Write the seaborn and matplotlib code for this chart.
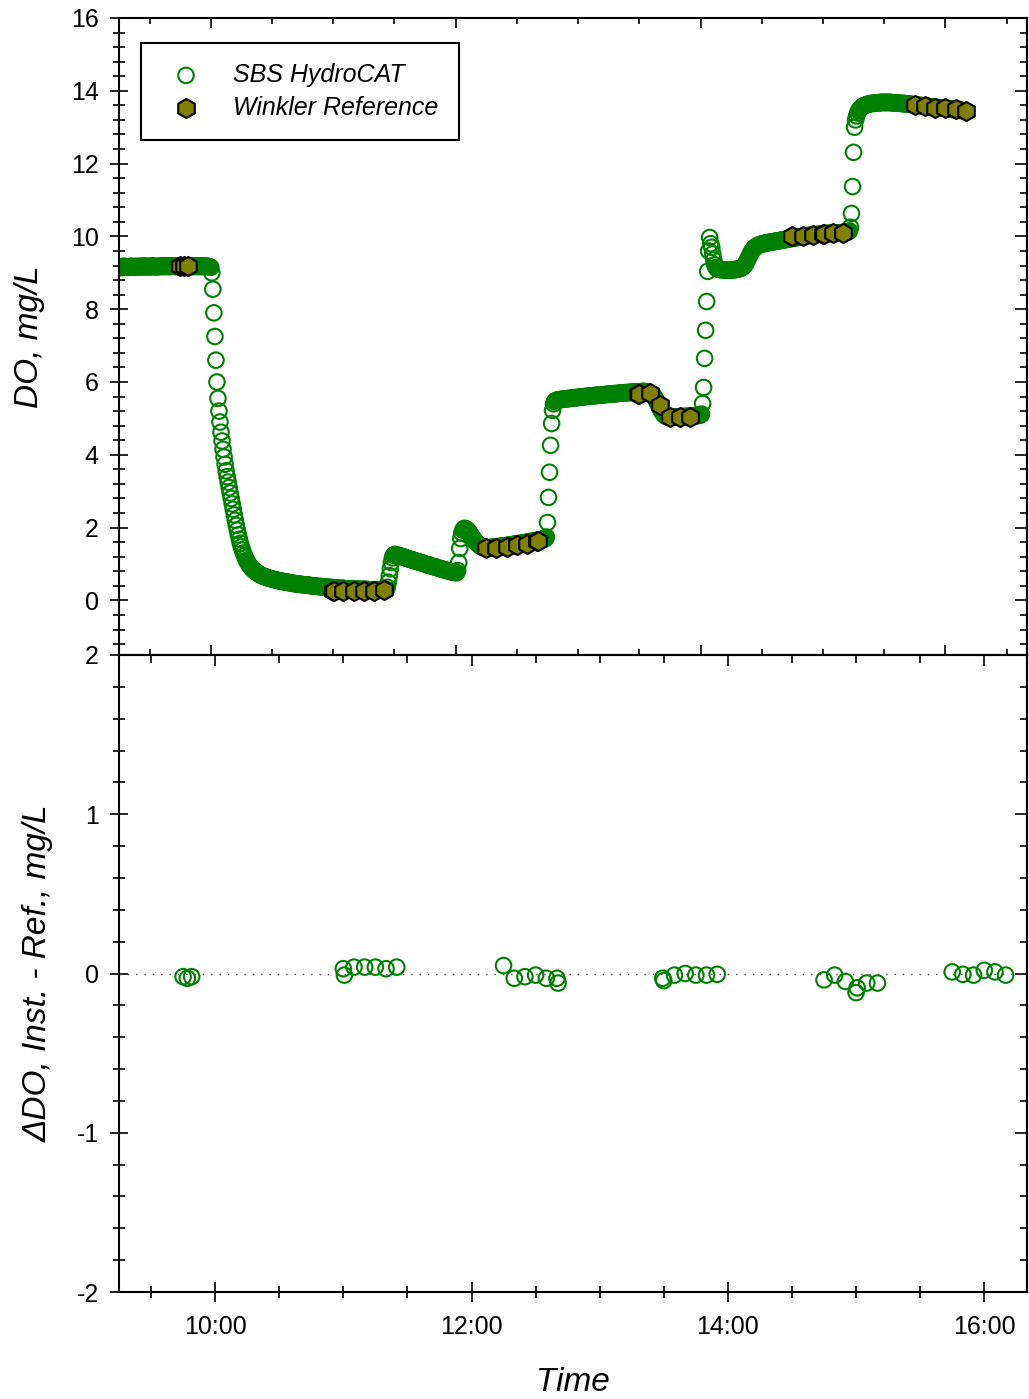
import pandas as pd
import seaborn as sns
import matplotlib.pyplot as plt
import matplotlib.dates as mdates
from matplotlib.ticker import MultipleLocator

sns.set_style('ticks')
plt.rcParams['font.family'] = ['Liberation Sans', 'DejaVu Sans']
plt.rcParams['axes.edgecolor'] = 'black'
plt.rcParams['xtick.color'] = 'black'
plt.rcParams['ytick.color'] = 'black'
plt.rcParams['text.color'] = 'black'
plt.rcParams['axes.labelcolor'] = 'black'
plt.rcParams['axes.unicode_minus'] = False

day = '2020-01-01 '

# SBS HydroCAT DO (mg/L), one reading every 30 s starting 09:15:00
sbs_start = day + '09:15:00'
sbs_do = [
    9.15, 9.16, 9.14, 9.17, 9.16, 9.18, 9.15, 9.17, 9.16, 9.15,  # 09:15
    9.16, 9.17, 9.18, 9.16, 9.17, 9.15, 9.16, 9.18, 9.17, 9.16,  # 09:20
    9.17, 9.18, 9.16, 9.17, 9.19, 9.17, 9.16, 9.18, 9.17, 9.18,  # 09:25
    9.17, 9.16, 9.18, 9.19, 9.17, 9.18, 9.17, 9.16, 9.18, 9.17,  # 09:30
    9.18, 9.17, 9.19, 9.18, 9.17, 9.18, 9.19, 9.17, 9.18, 9.18,  # 09:35
    9.17, 9.19, 9.18, 9.18, 9.19, 9.17, 9.18, 9.19, 9.18, 9.17,  # 09:40
    9.18, 9.19, 9.18, 9.17, 9.19, 9.18, 9.18, 9.19, 9.17, 9.18,  # 09:45
    9.19, 9.18, 9.18, 9.17, 9.19, 9.18, 9.18, 9.17, 9.19, 9.18,  # 09:50
    9.18, 9.17, 9.18, 9.19, 9.18, 9.17, 9.18, 9.18, 9.17, 9.16,  # 09:55
    9.15, 9.00, 8.55, 7.90, 7.25, 6.60, 6.00, 5.55, 5.20, 4.90,  # 10:00
    4.62, 4.38, 4.15, 3.94, 3.74, 3.56, 3.40, 3.25, 3.10, 2.95,  # 10:05
    2.80, 2.65, 2.50, 2.35, 2.20, 2.06, 1.93, 1.80, 1.68, 1.57,  # 10:10
    1.47, 1.38, 1.30, 1.23, 1.16, 1.10, 1.05, 1.00, 0.96, 0.92,  # 10:15
    0.89, 0.86, 0.83, 0.81, 0.79, 0.77, 0.75, 0.73, 0.71, 0.70,  # 10:20
    0.68, 0.67, 0.66, 0.65, 0.64, 0.63, 0.62, 0.61, 0.60, 0.60,  # 10:25
    0.59, 0.58, 0.57, 0.57, 0.56, 0.55, 0.55, 0.54, 0.53, 0.53,  # 10:30
    0.52, 0.52, 0.51, 0.51, 0.50, 0.50, 0.49, 0.49, 0.48, 0.48,  # 10:35
    0.47, 0.47, 0.46, 0.46, 0.45, 0.45, 0.45, 0.44, 0.44, 0.44,  # 10:40
    0.43, 0.43, 0.43, 0.42, 0.42, 0.42, 0.41, 0.41, 0.41, 0.40,  # 10:45
    0.40, 0.40, 0.39, 0.39, 0.39, 0.38, 0.38, 0.38, 0.38, 0.37,  # 10:50
    0.37, 0.37, 0.37, 0.36, 0.36, 0.36, 0.36, 0.35, 0.35, 0.35,  # 10:55
    0.35, 0.34, 0.34, 0.34, 0.34, 0.34, 0.33, 0.33, 0.33, 0.33,  # 11:00
    0.33, 0.32, 0.32, 0.32, 0.32, 0.32, 0.32, 0.31, 0.31, 0.31,  # 11:05
    0.31, 0.31, 0.31, 0.31, 0.30, 0.30, 0.30, 0.30, 0.30, 0.30,  # 11:10
    0.30, 0.30, 0.30, 0.30, 0.29, 0.29, 0.29, 0.29, 0.29, 0.29,  # 11:15
    0.29, 0.29, 0.29, 0.29, 0.29, 0.29, 0.29, 0.28, 0.29, 0.29,  # 11:20
    0.29, 0.29, 0.30, 0.36, 0.50, 0.68, 0.87, 1.04, 1.17, 1.24,  # 11:25
    1.26, 1.26, 1.25, 1.24, 1.23, 1.22, 1.21, 1.21, 1.20, 1.19,  # 11:30
    1.18, 1.17, 1.16, 1.15, 1.14, 1.13, 1.12, 1.12, 1.11, 1.10,  # 11:35
    1.09, 1.08, 1.07, 1.06, 1.05, 1.05, 1.04, 1.03, 1.02, 1.01,  # 11:40
    1.00, 0.99, 0.98, 0.98, 0.97, 0.96, 0.95, 0.94, 0.93, 0.92,  # 11:45
    0.92, 0.91, 0.90, 0.89, 0.88, 0.87, 0.86, 0.86, 0.85, 0.84,  # 11:50
    0.83, 0.82, 0.82, 0.81, 0.80, 0.79, 0.79, 0.78, 0.77, 0.77,  # 11:55
    0.77, 0.76, 0.82, 1.04, 1.43, 1.70, 1.85, 1.93, 1.97, 1.98,  # 12:00
    1.97, 1.95, 1.92, 1.88, 1.84, 1.80, 1.75, 1.71, 1.67, 1.63,  # 12:05
    1.60, 1.57, 1.54, 1.52, 1.50, 1.48, 1.47, 1.46, 1.45, 1.45,  # 12:10
    1.44, 1.44, 1.44, 1.45, 1.45, 1.45, 1.46, 1.46, 1.46, 1.47,  # 12:15
    1.47, 1.47, 1.48, 1.48, 1.48, 1.49, 1.49, 1.50, 1.50, 1.50,  # 12:20
    1.51, 1.51, 1.52, 1.52, 1.52, 1.53, 1.53, 1.54, 1.54, 1.55,  # 12:25
    1.55, 1.55, 1.56, 1.56, 1.57, 1.57, 1.58, 1.58, 1.59, 1.59,  # 12:30
    1.60, 1.60, 1.61, 1.61, 1.62, 1.62, 1.63, 1.63, 1.64, 1.64,  # 12:35
    1.65, 1.65, 1.66, 1.66, 1.67, 1.68, 1.68, 1.69, 1.70, 1.74,  # 12:40
    2.14, 2.83, 3.52, 4.26, 4.86, 5.22, 5.40, 5.46, 5.49, 5.50,  # 12:45
    5.50, 5.51, 5.51, 5.52, 5.52, 5.53, 5.53, 5.53, 5.54, 5.54,  # 12:50
    5.54, 5.55, 5.55, 5.55, 5.56, 5.56, 5.56, 5.57, 5.57, 5.57,  # 12:55
    5.58, 5.58, 5.58, 5.59, 5.59, 5.59, 5.60, 5.60, 5.60, 5.61,  # 13:00
    5.61, 5.61, 5.61, 5.62, 5.62, 5.62, 5.63, 5.63, 5.63, 5.63,  # 13:05
    5.64, 5.64, 5.64, 5.65, 5.65, 5.65, 5.65, 5.66, 5.66, 5.66,  # 13:10
    5.66, 5.67, 5.67, 5.67, 5.67, 5.68, 5.68, 5.68, 5.68, 5.69,  # 13:15
    5.69, 5.69, 5.69, 5.70, 5.70, 5.70, 5.70, 5.71, 5.71, 5.71,  # 13:20
    5.71, 5.71, 5.72, 5.72, 5.72, 5.72, 5.72, 5.73, 5.73, 5.73,  # 13:25
    5.73, 5.73, 5.73, 5.74, 5.74, 5.74, 5.73, 5.73, 5.72, 5.71,  # 13:30
    5.70, 5.69, 5.67, 5.65, 5.62, 5.58, 5.53, 5.48, 5.42, 5.36,  # 13:35
    5.30, 5.24, 5.19, 5.15, 5.11, 5.08, 5.06, 5.05, 5.04, 5.04,  # 13:40
    5.04, 5.04, 5.03, 5.03, 5.03, 5.04, 5.04, 5.04, 5.04, 5.04,  # 13:45
    5.04, 5.05, 5.05, 5.05, 5.05, 5.05, 5.05, 5.06, 5.06, 5.06,  # 13:50
    5.06, 5.06, 5.07, 5.07, 5.07, 5.07, 5.08, 5.08, 5.08, 5.09,  # 13:55
    5.09, 5.12, 5.41, 5.85, 6.65, 7.42, 8.21, 9.04, 9.60, 9.97,  # 14:00
    9.80, 9.70, 9.52, 9.35, 9.22, 9.15, 9.12, 9.10, 9.10, 9.09,  # 14:05
    9.09, 9.09, 9.08, 9.08, 9.08, 9.08, 9.08, 9.08, 9.08, 9.08,  # 14:10
    9.08, 9.08, 9.08, 9.09, 9.09, 9.09, 9.10, 9.10, 9.11, 9.12,  # 14:15
    9.13, 9.15, 9.17, 9.20, 9.24, 9.29, 9.35, 9.41, 9.47, 9.53,  # 14:20
    9.58, 9.62, 9.66, 9.69, 9.71, 9.73, 9.75, 9.76, 9.77, 9.78,  # 14:25
    9.79, 9.80, 9.80, 9.81, 9.82, 9.82, 9.83, 9.83, 9.84, 9.84,  # 14:30
    9.85, 9.85, 9.86, 9.86, 9.87, 9.87, 9.88, 9.88, 9.89, 9.89,  # 14:35
    9.90, 9.90, 9.91, 9.91, 9.92, 9.92, 9.93, 9.93, 9.94, 9.94,  # 14:40
    9.95, 9.95, 9.96, 9.96, 9.97, 9.97, 9.98, 9.98, 9.99, 9.99,  # 14:45
    10.00, 10.00, 10.01, 10.01, 10.02, 10.02, 10.02, 10.03, 10.03, 10.03,  # 14:50
    10.04, 10.04, 10.04, 10.05, 10.05, 10.05, 10.06, 10.06, 10.06, 10.06,  # 14:55
    10.07, 10.07, 10.07, 10.07, 10.08, 10.08, 10.08, 10.08, 10.08, 10.09,  # 15:00
    10.09, 10.09, 10.09, 10.09, 10.10, 10.10, 10.10, 10.10, 10.10, 10.10,  # 15:05
    10.11, 10.11, 10.11, 10.12, 10.12, 10.13, 10.15, 10.25, 10.63, 11.37,  # 15:10
    12.31, 13.00, 13.20, 13.31, 13.39, 13.45, 13.49, 13.52, 13.55, 13.57,  # 15:15
    13.59, 13.60, 13.61, 13.62, 13.63, 13.64, 13.64, 13.65, 13.65, 13.66,  # 15:20
    13.66, 13.66, 13.67, 13.67, 13.67, 13.67, 13.68, 13.68, 13.68, 13.68,  # 15:25
    13.68, 13.68, 13.68, 13.68, 13.68, 13.68, 13.68, 13.68, 13.67, 13.67,  # 15:30
    13.67, 13.67, 13.67, 13.66, 13.66, 13.66, 13.66, 13.65, 13.65, 13.65,  # 15:35
    13.65, 13.64, 13.64, 13.64, 13.63, 13.63, 13.63, 13.62, 13.62, 13.62,  # 15:40
    13.61, 13.61, 13.61, 13.60, 13.60, 13.60, 13.59, 13.59, 13.59, 13.58,  # 15:45
    13.58, 13.58, 13.57, 13.57, 13.57, 13.56, 13.56, 13.56, 13.55, 13.55,  # 15:50
    13.55, 13.54, 13.54, 13.54, 13.53, 13.53, 13.53, 13.52, 13.52, 13.52,  # 15:55
    13.51, 13.51, 13.51, 13.50, 13.50, 13.50, 13.49, 13.49, 13.49, 13.48,  # 16:00
    13.48, 13.48, 13.47, 13.47, 13.47, 13.46, 13.46, 13.46, 13.45, 13.45,  # 16:05
    13.45,  # 16:10
]

# Winkler reference samples and instrument minus reference difference
winkler_time = [
    '09:45:00', '09:47:00', '09:49:00',
    '11:00:00', '11:00:30', '11:05:00', '11:10:00', '11:15:00', '11:20:00', '11:25:00',
    '12:15:00', '12:20:00', '12:25:00', '12:30:00', '12:35:00', '12:40:00', '12:40:30',
    '13:29:30', '13:30:00', '13:35:00', '13:40:00', '13:45:00', '13:50:00', '13:55:00',
    '14:45:00', '14:50:00', '14:55:00', '15:00:00', '15:00:30', '15:05:00', '15:10:00',
    '15:45:00', '15:50:00', '15:55:00', '16:00:00', '16:05:00', '16:10:00',
]
winkler_do = [
    9.19, 9.20, 9.19,
    0.27, 0.27, 0.27, 0.27, 0.27, 0.27, 0.28,
    1.43, 1.45, 1.48, 1.52, 1.56, 1.62, 1.63,
    5.66, 5.67, 5.69, 5.36, 5.03, 5.03, 5.05,
    10.02, 10.00, 10.05, 10.07, 10.07, 10.08, 10.08,
    13.60, 13.57, 13.54, 13.52, 13.49, 13.45,
]
delta_do = [
    -0.02, -0.03, -0.02,
    0.03, -0.01, 0.04, 0.04, 0.04, 0.03, 0.04,
    0.05, -0.03, -0.02, -0.01, -0.03, -0.03, -0.06,
    -0.03, -0.045, -0.01, 0.00, -0.01, -0.01, -0.005,
    -0.04, -0.01, -0.05, -0.12, -0.09, -0.06, -0.06,
    0.01, -0.005, -0.01, 0.02, 0.01, -0.01,
]

sbs = pd.DataFrame({
    'time': pd.date_range(sbs_start, periods=len(sbs_do), freq='30s'),
    'do': sbs_do,
})
ref = pd.DataFrame({
    'time': pd.to_datetime([day + t for t in winkler_time]),
    'do': winkler_do,
    'delta': delta_do,
})

green = '#008000'
olive = '#808000'

fig = plt.figure(figsize=(10.29, 13.99), dpi=100)
ax1 = fig.add_axes([119 / 1029, 744 / 1399, 908 / 1029, 637 / 1399])
ax2 = fig.add_axes([119 / 1029, 107 / 1399, 908 / 1029, 637 / 1399])

# top panel: DO time series
sns.scatterplot(data=sbs, x='time', y='do', ax=ax1, marker='o', s=125,
                facecolor='none', edgecolor=green, linewidth=1.5,
                label='SBS HydroCAT', zorder=2)
sns.scatterplot(data=ref, x='time', y='do', ax=ax1, marker='h', s=190,
                color=olive, edgecolor='black', linewidth=1.5,
                label='Winkler Reference', zorder=3)

ax1.set_xlim(pd.Timestamp(day + '09:15'), pd.Timestamp(day + '16:40'))
ax1.set_ylim(-1.5, 16)
ax1.set_yticks(range(0, 17, 2))
ax1.yaxis.set_minor_locator(MultipleLocator(0.4))
ax1.xaxis.set_major_locator(mdates.HourLocator(byhour=[10, 12, 14, 16]))
ax1.xaxis.set_minor_locator(mdates.MinuteLocator(byminute=[0, 30]))
ax1.tick_params(axis='x', which='both', direction='in', top=True, bottom=True,
                labelbottom=False, width=1.2)
ax1.tick_params(axis='x', which='major', length=7)
ax1.tick_params(axis='x', which='minor', length=4.5)
ax1.tick_params(axis='y', which='both', direction='inout', left=True,
                right=False, width=1.2)
ax1.tick_params(axis='y', which='major', length=13, pad=8, labelsize=18)
ax1.tick_params(axis='y', which='minor', length=8)
ax1.set_xlabel('')
ax1.set_ylabel('DO, mg/L', fontsize=24, style='italic')
ax1.yaxis.set_label_coords(-0.082, 0.5)

sec1 = ax1.secondary_yaxis('right')
sec1.set_yticks(range(0, 17, 2))
sec1.yaxis.set_minor_locator(MultipleLocator(0.4))
sec1.tick_params(which='both', direction='in', labelright=False, width=1.2)
sec1.tick_params(which='major', length=8.5)
sec1.tick_params(which='minor', length=5)

ax1.legend(loc='upper left', bbox_to_anchor=(0.0242, 0.9608), borderaxespad=0,
           fancybox=False, framealpha=1, edgecolor='black', handlelength=2,
           handletextpad=0.9, borderpad=0.8, labelspacing=0.35,
           prop={'size': 18, 'style': 'italic'})
ax1.get_legend().get_frame().set_linewidth(1.5)

# bottom panel: instrument minus reference
ax2.axhline(0, color='#444444', lw=1.0, ls=(0, (1, 5)), zorder=1)
sns.scatterplot(data=ref, x='time', y='delta', ax=ax2, marker='o', s=125,
                facecolor='none', edgecolor=green, linewidth=1.5,
                legend=False, zorder=2)

ax2.set_xlim(pd.Timestamp(day + '09:15'), pd.Timestamp(day + '16:20'))
ax2.set_ylim(-2, 2)
ax2.set_yticks([-2, -1, 0, 1, 2])
ax2.yaxis.set_minor_locator(MultipleLocator(0.2))
ax2.xaxis.set_major_locator(mdates.HourLocator(byhour=[10, 12, 14, 16]))
ax2.xaxis.set_minor_locator(mdates.MinuteLocator(byminute=[0, 30]))
ax2.xaxis.set_major_formatter(mdates.DateFormatter('%H:%M'))
ax2.tick_params(axis='x', which='both', direction='inout', bottom=True,
                top=False, width=1.2)
ax2.tick_params(axis='x', which='major', length=14.5, pad=9, labelsize=18)
ax2.tick_params(axis='x', which='minor', length=9)
ax2.tick_params(axis='y', which='both', direction='inout', left=True,
                right=False, width=1.2)
ax2.tick_params(axis='y', which='major', length=13, pad=8, labelsize=18)
ax2.tick_params(axis='y', which='minor', length=8)
ax2.set_xlabel('Time', fontsize=24, style='italic')
ax2.xaxis.set_label_coords(0.5, -0.118)
ax2.set_ylabel('\u0394DO, Inst. - Ref., mg/L', fontsize=24, style='italic')
ax2.yaxis.set_label_coords(-0.072, 0.5)

sec2y = ax2.secondary_yaxis('right')
sec2y.set_yticks([-2, -1, 0, 1, 2])
sec2y.yaxis.set_minor_locator(MultipleLocator(0.2))
sec2y.tick_params(which='both', direction='in', labelright=False, width=1.2)
sec2y.tick_params(which='major', length=8.5)
sec2y.tick_params(which='minor', length=5)

sec2x = ax2.secondary_xaxis('top')
sec2x.xaxis.set_major_locator(mdates.HourLocator(byhour=[10, 12, 14, 16]))
sec2x.xaxis.set_minor_locator(mdates.MinuteLocator(byminute=[0, 30]))
sec2x.tick_params(which='both', direction='in', labeltop=False, width=1.2)
sec2x.tick_params(which='major', length=8)
sec2x.tick_params(which='minor', length=5.5)

for a in [ax1, ax2, sec1, sec2y, sec2x]:
    for sp in a.spines.values():
        sp.set_linewidth(1.5)

fig.savefig('out.png', dpi=100)
